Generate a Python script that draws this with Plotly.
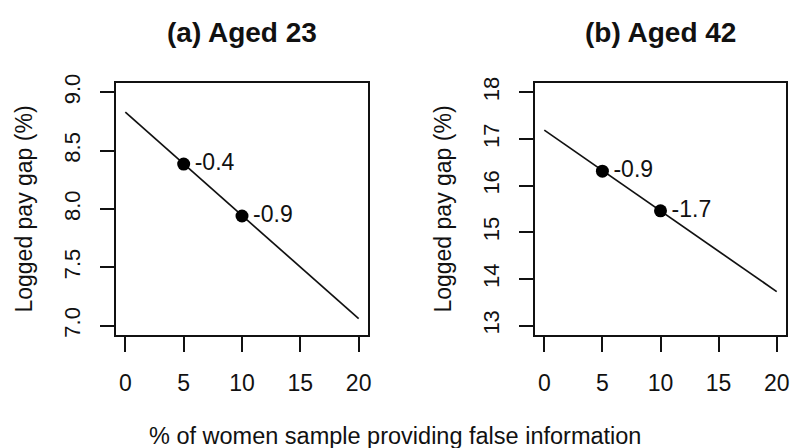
import plotly.graph_objects as go

# ---- data ----
line_x = [0, 20]
a_line_y = [8.83, 7.06]
b_line_y = [17.19, 13.73]

pts_x = [5, 10]
a_pts_y = [8.385, 7.94]
b_pts_y = [16.31, 15.46]
a_labels = ["-0.4", "-0.9"]
b_labels = ["-0.9", "-1.7"]

x_ticks = [0, 5, 10, 15, 20]
a_y_ticks = [7.0, 7.5, 8.0, 8.5, 9.0]
a_y_ticktext = ["7.0", "7.5", "8.0", "8.5", "9.0"]
b_y_ticks = [13, 14, 15, 16, 17, 18]

titles = ["(a) Aged 23", "(b) Aged 42"]
y_title = "Logged pay gap (%)"
x_title = "% of women sample providing false information"

FONT = "Arial, Liberation Sans, sans-serif"
INK = "#111111"

W, H = 790, 448
BOX_A = (116, 368)
BOX_B = (535, 786)
BOX_TOP, BOX_BOT = 83, 335

ML, MR = BOX_A[0], W - BOX_B[1]
MT, MB = BOX_TOP, H - BOX_BOT
PW = W - ML - MR
PH = H - MT - MB


def px_x(p):
    return (p - ML) / PW


def px_y(p):
    return (BOX_BOT - p) / PH


fig = go.Figure()

for ln_y, p_y, labs, xa, ya in [
    (a_line_y, a_pts_y, a_labels, "x", "y"),
    (b_line_y, b_pts_y, b_labels, "x2", "y2"),
]:
    fig.add_trace(go.Scatter(x=line_x, y=ln_y, mode="lines",
                             line=dict(color=INK, width=1.7),
                             xaxis=xa, yaxis=ya, showlegend=False,
                             hoverinfo="skip"))
    fig.add_trace(go.Scatter(x=pts_x, y=p_y, mode="markers+text",
                             marker=dict(color="#000000", size=13),
                             text=["\u200a" + s for s in labs],
                             textposition="middle right",
                             textfont=dict(family=FONT, size=23, color=INK),
                             xaxis=xa, yaxis=ya, showlegend=False))

common_x = dict(range=[-0.8, 20.8], tickvals=x_ticks, ticks="outside",
                ticklen=15, tickwidth=1.6, tickcolor=INK,
                showline=True, linecolor=INK, linewidth=1.8, mirror=True,
                showgrid=False, zeroline=False, automargin=False,
                tickfont=dict(family=FONT, size=23, color=INK),
                ticklabelstandoff=11)
common_y = dict(ticks="outside", ticklen=14, tickwidth=1.6, tickcolor=INK,
                showline=True, linecolor=INK, linewidth=1.8, mirror=True,
                showgrid=False, zeroline=False, automargin=False,
                tickangle=-90,
                tickfont=dict(family=FONT, size=22, color=INK),
                ticklabelstandoff=11,
                title=dict(text=y_title, font=dict(family=FONT, size=23, color=INK),
                           standoff=21))

da = [0, (BOX_A[1] - BOX_A[0]) / PW]
db = [(BOX_B[0] - ML) / PW, 1]

fig.update_layout(
    width=W, height=H,
    margin=dict(l=ML, r=MR, t=MT, b=MB),
    paper_bgcolor="white", plot_bgcolor="white",
    xaxis=dict(domain=da, anchor="y", **common_x),
    xaxis2=dict(domain=db, anchor="y2", **common_x),
    yaxis=dict(domain=[0, 1], anchor="x", range=[6.92, 9.08],
               tickvals=a_y_ticks, ticktext=a_y_ticktext, **common_y),
    yaxis2=dict(domain=[0, 1], anchor="x2", range=[12.8, 18.2],
                tickvals=b_y_ticks, **common_y),
    showlegend=False,
)

annots = []
for t, dom in zip(titles, [da, db]):
    annots.append(dict(text="<b>" + t + "</b>", xref="paper", yref="paper",
                       x=(dom[0] + dom[1]) / 2, y=px_y(32),
                       xanchor="center", yanchor="middle", showarrow=False,
                       font=dict(family=FONT, size=28, color=INK)))
annots.append(dict(text=x_title, xref="paper", yref="paper",
                   x=px_x(395), y=px_y(436),
                   xanchor="center", yanchor="middle", showarrow=False,
                   font=dict(family=FONT, size=23.5, color=INK)))
fig.update_layout(annotations=annots)

fig.write_html("out.html",
               config={"displayModeBar": False},
               post_script="document.body.style.margin='0';"
                           "document.body.style.overflow='hidden';")
